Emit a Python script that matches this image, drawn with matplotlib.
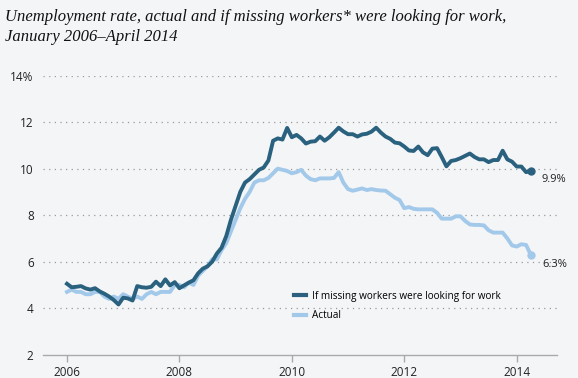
import numpy as np
import pandas as pd
import matplotlib
matplotlib.use("Agg")
import matplotlib.pyplot as plt

# monthly values, Jan 2006 - Apr 2014
months = pd.date_range("2006-01-01", "2014-04-01", freq="MS")

missing_workers = [
    5.05, 4.90, 4.92, 4.95, 4.85, 4.80, 4.86, 4.72, 4.62, 4.50, 4.35, 4.16,
    4.45, 4.42, 4.33, 4.95, 4.90, 4.88, 4.92, 5.14, 4.95, 5.24, 4.98, 5.12,
    4.86, 4.98, 5.10, 5.20, 5.50, 5.70, 5.80, 6.00, 6.35, 6.60, 7.10, 7.80,
    8.40, 9.00, 9.40, 9.55, 9.75, 9.95, 10.05, 10.35, 11.20, 11.30, 11.25, 11.75,
    11.35, 11.45, 11.30, 11.08, 11.16, 11.18, 11.38, 11.20, 11.35, 11.55, 11.76, 11.60,
    11.48, 11.48, 11.38, 11.47, 11.50, 11.59, 11.76, 11.55, 11.38, 11.28, 11.12, 11.09,
    10.95, 10.78, 10.76, 10.95, 10.70, 10.58, 10.86, 10.88, 10.50, 10.10, 10.33, 10.37,
    10.45, 10.55, 10.65, 10.50, 10.40, 10.40, 10.28, 10.37, 10.37, 10.77, 10.40, 10.30,
    10.09, 10.09, 9.85, 9.90,
]

actual = [
    4.7, 4.8, 4.7, 4.7, 4.6, 4.6, 4.7, 4.7, 4.5, 4.4, 4.5, 4.4,
    4.6, 4.5, 4.4, 4.5, 4.4, 4.6, 4.7, 4.6, 4.7, 4.7, 4.7, 5.0,
    5.0, 4.9, 5.1, 5.0, 5.4, 5.6, 5.8, 6.1, 6.1, 6.5, 6.8, 7.3,
    7.8, 8.3, 8.7, 9.0, 9.4, 9.5, 9.5, 9.6, 9.8, 10.0, 9.95, 9.9,
    9.8, 9.85, 9.95, 9.7, 9.55, 9.5, 9.58, 9.58, 9.58, 9.6, 9.85, 9.4,
    9.12, 9.05, 9.1, 9.15, 9.08, 9.12, 9.08, 9.06, 9.05, 8.9, 8.75, 8.65,
    8.3, 8.35, 8.27, 8.25, 8.25, 8.25, 8.25, 8.1, 7.85, 7.85, 7.85, 7.95,
    7.95, 7.75, 7.6, 7.58, 7.58, 7.56, 7.35, 7.25, 7.25, 7.25, 7.0, 6.7,
    6.65, 6.75, 6.72, 6.3,
]

year_ticks = [2006, 2008, 2010, 2012, 2014]
y_ticks = [2, 4, 6, 8, 10, 12, 14]
y_labels = ["2", "4", "6", "8", "10", "12", "14%"]

title = ("Unemployment rate, actual and if missing workers* were looking for work,\n"
         "January 2006\u2013April 2014")

DARK = "#29617f"
LIGHT = "#a3c9ea"
BG = "#f4f5f7"

x = months.year + (months.month - 1) / 12.0

fig = plt.figure(figsize=(5.78, 3.78), dpi=100, facecolor=BG)
ax = fig.add_axes([0.075, 0.0616, 0.888, 0.7384], facecolor=BG)

ax.plot(x, actual, color=LIGHT, lw=2.8, solid_joinstyle="round", label="Actual", zorder=2)
ax.plot(x, missing_workers, color=DARK, lw=2.8, solid_joinstyle="round",
        label="If missing workers were looking for work", zorder=3)
ax.plot(x[-1], actual[-1], "o", color=LIGHT, ms=5, zorder=2)
ax.plot(x[-1], missing_workers[-1], "o", color=DARK, ms=5, zorder=3)

ax.text(x[-1] + 0.2, missing_workers[-1] - 0.35, f"{missing_workers[-1]:.1f}%",
        fontsize=8, family="Open Sans", color="#222222", va="center", ha="left")
ax.text(x[-1] + 0.2, actual[-1] - 0.4, f"{actual[-1]:.1f}%",
        fontsize=8, family="Open Sans", color="#222222", va="center", ha="left")

ax.set_xlim(2005.58, 2014.71)
ax.set_ylim(2, 14)
ax.set_xticks(year_ticks)
ax.set_xticklabels([str(y) for y in year_ticks])
ax.set_yticks(y_ticks)
ax.set_yticklabels(y_labels)

for v in y_ticks[1:]:
    ax.axhline(v, color="#9a9a9a", lw=0.9, ls=(0, (1, 3.5)), zorder=1)

for s in ["top", "right", "left"]:
    ax.spines[s].set_visible(False)
ax.spines["bottom"].set_color("#aaaaaa")
ax.spines["bottom"].set_linewidth(1.0)
ax.tick_params(axis="x", length=5, width=1, color="#aaaaaa", pad=3,
               labelsize=8.5, labelcolor="#222222")
ax.tick_params(axis="y", length=0, pad=7, labelsize=8.5, labelcolor="#222222")
for lab in ax.get_xticklabels() + ax.get_yticklabels():
    lab.set_family("Open Sans")

handles, labels = ax.get_legend_handles_labels()
leg = ax.legend(handles[::-1], labels[::-1], loc="upper left",
                bbox_to_anchor=(0.47, 0.262), frameon=False, handlelength=1.2,
                handletextpad=0.6, labelspacing=0.85,
                prop={"family": "Open Sans", "size": 7.2})
for line in leg.get_lines():
    line.set_linewidth(3)

fig.text(0.008, 0.975, title, ha="left", va="top", fontsize=12.0,
         family="Liberation Serif", style="italic", color="#111111", linespacing=1.3)

fig.savefig("out.png", dpi=100, facecolor=BG)
